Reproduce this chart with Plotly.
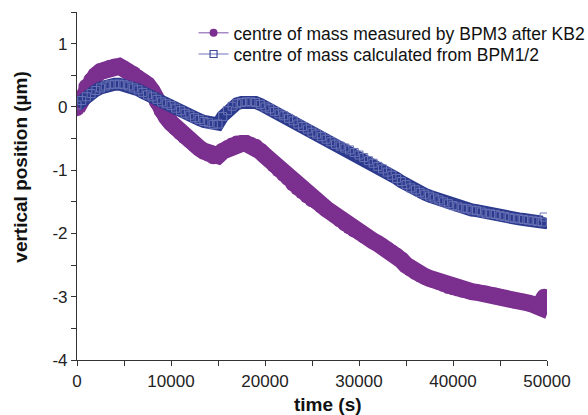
import plotly.graph_objects as go

# ---- data ----
time_bpm3 = list(range(0, 49001, 500)) + [49300, 49600, 49700]
pos_bpm3 = [
    -0.02, 0.15, 0.32, 0.42, 0.50, 0.56, 0.59, 0.62, 0.64, 0.64,
    0.60, 0.56, 0.52, 0.46, 0.41, 0.35, 0.25, 0.08, -0.06, -0.16,
    -0.25, -0.33, -0.40, -0.47, -0.53, -0.59, -0.65, -0.70, -0.74, -0.78,
    -0.77, -0.70, -0.65, -0.61, -0.58, -0.58, -0.58, -0.60, -0.63, -0.70,
    -0.77, -0.84, -0.92, -0.99, -1.06, -1.13, -1.21, -1.28, -1.34, -1.40,
    -1.46, -1.50, -1.56, -1.61, -1.66, -1.72, -1.78, -1.84, -1.89, -1.94,
    -1.98, -2.03, -2.07, -2.12, -2.16, -2.20, -2.25, -2.30, -2.35, -2.42,
    -2.50, -2.56, -2.61, -2.65, -2.68, -2.71, -2.74, -2.77, -2.80, -2.83,
    -2.85, -2.87, -2.89, -2.90, -2.92, -2.93, -2.94, -2.95, -2.97, -2.98,
    -3.00, -3.02, -3.04, -3.06, -3.07, -3.08, -3.10, -3.12, -3.15,
    -3.17, -3.05, -3.00,
]

time_calc = list(range(0, 49501, 500)) + [49700]
pos_calc = [
    0.03, 0.10, 0.16, 0.21, 0.26, 0.30, 0.33, 0.35, 0.36, 0.36,
    0.35, 0.33, 0.30, 0.27, 0.23, 0.19, 0.16, 0.12, 0.08, 0.05,
    0.02, -0.02, -0.06, -0.10, -0.13, -0.17, -0.20, -0.23, -0.25, -0.28,
    -0.27, -0.15, -0.06, 0.01, 0.05, 0.07, 0.08, 0.08, 0.07, 0.04,
    0.00, -0.03, -0.07, -0.11, -0.14, -0.18, -0.22, -0.27, -0.31, -0.35,
    -0.40, -0.43, -0.47, -0.51, -0.55, -0.59, -0.62, -0.65, -0.68, -0.72,
    -0.76, -0.80, -0.85, -0.89, -0.94, -0.98, -1.03, -1.08, -1.13, -1.18,
    -1.23, -1.28, -1.31, -1.35, -1.38, -1.41, -1.44, -1.47, -1.50, -1.53,
    -1.56, -1.58, -1.60, -1.61, -1.63, -1.64, -1.66, -1.68, -1.69, -1.70,
    -1.72, -1.73, -1.75, -1.76, -1.77, -1.78, -1.79, -1.80, -1.81, -1.82,
    -1.74,
]

names = ["centre of mass measured by BPM3 after KB2",
         "centre of mass calculated from BPM1/2"]

x_ticks = [0, 10000, 20000, 30000, 40000, 50000]
y_ticks = [-4, -3, -2, -1, 0, 1]

assert len(time_bpm3) == len(pos_bpm3)
assert len(time_calc) == len(pos_calc)

PURPLE = "#7b2f8f"
NAVY = "#2c3a8e"
FONT = "Liberation Sans, Arial, sans-serif"

fig = go.Figure()

# purple band (measured)
fig.add_trace(go.Scatter(
    x=time_bpm3, y=pos_bpm3, mode="lines+markers", showlegend=False,
    line=dict(color=PURPLE, width=17),
    marker=dict(symbol="circle", size=16, color=PURPLE),
))
# navy band (calculated)
fig.add_trace(go.Scatter(
    x=time_calc, y=pos_calc, mode="lines", showlegend=False,
    line=dict(color=NAVY, width=13),
))
fig.add_trace(go.Scatter(
    x=time_calc, y=pos_calc, mode="markers", showlegend=False,
    marker=dict(symbol="square-open", size=8, color="#6a73b6",
                line=dict(width=1)),
))

# legend entries (one legend per row to match the row spacing)
fig.add_trace(go.Scatter(
    x=[None], y=[None], mode="lines+markers", name=names[0],
    legend="legend",
    line=dict(color="#a58ac6", width=1.5),
    marker=dict(symbol="circle", size=8, color=PURPLE),
))
fig.add_trace(go.Scatter(
    x=[None], y=[None], mode="lines+markers", name=names[1],
    legend="legend2",
    line=dict(color="#9ea2d2", width=1.5),
    marker=dict(symbol="square-open", size=7, color="#3e4a9c",
                line=dict(width=1.2)),
))

axis_common = dict(
    showgrid=False, zeroline=False, showline=True, linecolor="#333",
    linewidth=1.2, ticks="outside", ticklen=5, tickcolor="#333",
    tickwidth=1.2, tickfont=dict(family=FONT, size=17, color="#222"),
)

fig.update_xaxes(
    range=[0, 50000], tickvals=x_ticks, ticktext=[str(v) for v in x_ticks],
    minor=dict(dtick=5000, ticks="outside", ticklen=5, tickcolor="#333",
               tickwidth=1.2),
    **axis_common,
)
fig.update_yaxes(
    range=[-4, 1.5], tickvals=y_ticks, ticktext=[str(v) for v in y_ticks],
    minor=dict(dtick=0.5, ticks="outside", ticklen=5, tickcolor="#333",
               tickwidth=1.2),
    **axis_common,
)

# axis titles placed as annotations (offset like the reference)
fig.add_annotation(
    text="<b>vertical position (\u00b5m)</b>", textangle=-90,
    xref="paper", yref="paper", x=-0.121, y=0.553,
    xanchor="center", yanchor="middle", showarrow=False,
    font=dict(family=FONT, size=19, color="#111"),
)
fig.add_annotation(
    text="<b>time (s)</b>",
    xref="paper", yref="paper", x=0.534, y=-0.128,
    xanchor="center", yanchor="middle", showarrow=False,
    font=dict(family=FONT, size=19, color="#111"),
)

legend_style = dict(xanchor="left", yanchor="middle",
                    bgcolor="rgba(0,0,0,0)",
                    font=dict(family=FONT, size=17.5, color="#111"),
                    itemwidth=30)

fig.update_layout(
    width=588, height=415,
    margin=dict(l=77, r=41, t=12, b=55, autoexpand=False),
    plot_bgcolor="white", paper_bgcolor="white",
    legend=dict(x=0.248, y=0.94, **legend_style),
    legend2=dict(x=0.248, y=0.879, **legend_style),
)

fig.write_html("out.html")
